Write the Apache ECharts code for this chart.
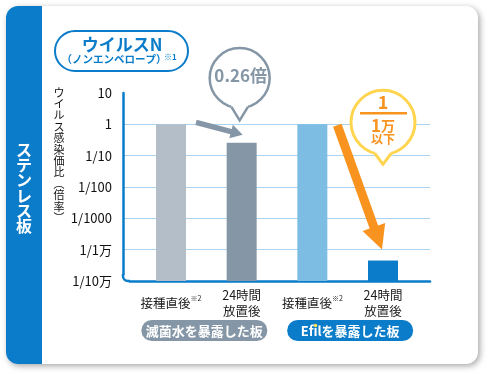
<!DOCTYPE html>
<html>
<head>
<meta charset="utf-8">
<script src="https://cdn.jsdelivr.net/npm/echarts@6/dist/echarts.min.js"></script>
<style>
html,body{margin:0;padding:0;background:#fff;}
#c{width:488px;height:375px;}
</style>
</head>
<body>
<div id="c"></div>
<script>
// ---- data ----
const categories = ['接種直後', '24時間\n放置後', '接種直後', '24時間\n放置後'];
const categoryNotes = ['※2', '', '※2', ''];
const values = [1, 0.26, 1, 0.000045];
const barColors = ['#b4bec8', '#8597a7', '#7dbde3', '#0a7cc9'];
const yTickLabels = ['1/10万', '1/1万', '1/1000', '1/100', '1/10', '1', '10'];
const groupLabels = ['滅菌水を暴露した板', 'Efilを暴露した板'];
const titleMain = 'ウイルスN';
const titleSub = '（ノンエンベロープ）';
const titleNote = '※1';
const sideLabel = 'ステンレス板';
const yName = 'ウイルス感染価比︵倍率︶';
const bubble1Text = '0.26倍';
const yMin = 0.00001, yMax = 10;

const FONT = '"Noto Sans CJK JP", "Noto Sans", sans-serif';
const BLUE = '#0a7cc9';
const GRAY = '#8597a7';
const ORANGE = '#f7931e';
const YELLOW = '#ffd54f';

const chart = echarts.init(document.getElementById('c'), null, {renderer: 'canvas'});

const baseOption = {
  animation: false,
  textStyle: {fontFamily: FONT},
  grid: [
    {left: 123, right: 58, top: 93, bottom: 94},
    {left: 135.67, right: 69.67, top: 93, bottom: 94}
  ],
  xAxis: [
    {gridIndex: 0, type: 'value', min: 0, max: 1,
     axisLine: {show: true, onZero: false, lineStyle: {color: BLUE, width: 2.5}},
     axisTick: {show: false}, axisLabel: {show: false}, splitLine: {show: false}},
    {gridIndex: 1, type: 'category', data: categories.map((c, i) => String(i)),
     axisLine: {show: false}, axisTick: {show: false},
     axisLabel: {
       interval: 0, margin: 22, verticalAlign: 'middle', color: '#1a1a1a',
       fontFamily: FONT,
       formatter: (v) => {
         const idx = Number(v);
         const lines = categories[idx].split('\n').map(s => '{a|' + s + '}');
         if (categoryNotes[idx]) lines[lines.length - 1] += '{s|' + categoryNotes[idx] + '}';
         return lines.join('\n');
       },
       rich: {
         a: {fontSize: 12.5, lineHeight: 16, color: '#1a1a1a', fontFamily: FONT},
         s: {fontSize: 7, lineHeight: 16, verticalAlign: 'top', color: '#1a1a1a', fontFamily: FONT, padding: [0, 0, 6, 0]}
       }
     },
     splitLine: {show: false}}
  ],
  yAxis: [
    {gridIndex: 0, type: 'log', logBase: 10, min: yMin, max: yMax, splitNumber: 6,
     axisLine: {show: true, lineStyle: {color: BLUE, width: 2.5}},
     axisTick: {show: false},
     axisLabel: {margin: 11, color: '#111', fontSize: 13, fontFamily: FONT,
       formatter: v => yTickLabels[Math.round(Math.log10(v)) + 5] || ''},
     splitLine: {show: true, showMaxLine: false, showMinLine: false,
       lineStyle: {color: '#a9d3ef', width: 1}}},
    {gridIndex: 1, type: 'log', logBase: 10, min: yMin, max: yMax, splitNumber: 6,
     show: false, splitLine: {show: false}}
  ],
  series: [{
    type: 'custom', xAxisIndex: 1, yAxisIndex: 1, z: 3,
    data: values.map((v, i) => [i, v]),
    renderItem: (params, api) => {
      const top = api.coord([api.value(0), api.value(1)]);
      const bot = api.coord([api.value(0), yMin]);
      return {type: 'rect', shape: {x: top[0] - 15, y: top[1], width: 30, height: bot[1] - top[1]},
        style: {fill: barColors[params.dataIndex]}};
    }
  }]
};
chart.setOption(baseOption);

function px(i, v) {
  return chart.convertToPixel({xAxisIndex: 1, yAxisIndex: 1}, [i, v]);
}

function vtext(str, x, y0, step, style, z) {
  return Array.from(str).map((ch, k) => ({
    type: 'text', z: z || 10,
    style: Object.assign({text: ch, x: x, y: y0 + k * step, align: 'center', verticalAlign: 'middle', fontFamily: FONT}, style)
  }));
}

function arrow(x1, y1, x2, y2, shaftW, headLen, headW, color) {
  const dx = x2 - x1, dy = y2 - y1, L = Math.hypot(dx, dy);
  const ux = dx / L, uy = dy / L, nx = -uy, ny = ux;
  const bx = x2 - ux * headLen, by = y2 - uy * headLen;
  const pts = [
    [x1 + nx * shaftW / 2, y1 + ny * shaftW / 2],
    [bx + nx * shaftW / 2, by + ny * shaftW / 2],
    [bx + nx * headW / 2, by + ny * headW / 2],
    [x2, y2],
    [bx - nx * headW / 2, by - ny * headW / 2],
    [bx - nx * shaftW / 2, by - ny * shaftW / 2],
    [x1 - nx * shaftW / 2, y1 - ny * shaftW / 2]
  ];
  return {type: 'polygon', z: 20, shape: {points: pts}, style: {fill: color}};
}

function bubble(cx, cy, r, tipY, halfAngleDeg, stroke, lw) {
  const t = halfAngleDeg * Math.PI / 180;
  const p1 = [cx - r * Math.sin(t), cy + r * Math.cos(t)];
  const p2 = [cx + r * Math.sin(t), cy + r * Math.cos(t)];
  const tip = [cx, tipY];
  const inner1 = [cx - r * Math.sin(t) * 0.8, cy + r * Math.cos(t) * 0.8 - 2];
  const inner2 = [cx + r * Math.sin(t) * 0.8, cy + r * Math.cos(t) * 0.8 - 2];
  return [
    {type: 'circle', z: 20, shape: {cx: cx, cy: cy, r: r}, style: {fill: '#fff', stroke: stroke, lineWidth: lw}},
    {type: 'polygon', z: 21, shape: {points: [inner1, p1, tip, p2, inner2]}, style: {fill: '#fff'}},
    {type: 'polyline', z: 22, shape: {points: [p1, tip, p2]}, style: {stroke: stroke, lineWidth: lw, fill: null, lineJoin: 'miter'}}
  ];
}

const b0 = px(0, values[0]), b1 = px(1, values[1]), b2 = px(2, values[2]), b3 = px(3, values[3]);
const topY = px(0, yMax)[1];
const botY = px(0, yMin)[1];
const axisX = chart.convertToPixel({xAxisIndex: 0}, 0);
const half = 15;

const g = [];
// card
g.push({type: 'rect', z: -100, shape: {x: 6, y: 6, width: 472, height: 358, r: 12},
  style: {fill: '#fff', shadowBlur: 6, shadowColor: 'rgba(0,0,0,0.35)', shadowOffsetX: 2, shadowOffsetY: 2}});
g.push({type: 'rect', z: -99, shape: {x: 6, y: 6, width: 36, height: 358, r: [12, 0, 0, 12]},
  style: {fill: BLUE}});
g.push(...vtext(sideLabel, 24, 150, 15.2, {fill: '#fff', fontSize: 16, fontWeight: 'bold'}));

// rounded axis corner
g.push({type: 'rect', z: 30, shape: {x: axisX - 2, y: botY - 6, width: 8, height: 8}, style: {fill: '#fff'}});
g.push({type: 'arc', z: 31, shape: {cx: axisX + 5, cy: botY - 5, r: 5, startAngle: Math.PI / 2, endAngle: Math.PI, clockwise: true},
  style: {stroke: BLUE, lineWidth: 2.5, fill: null}});
g.push({type: 'line', z: 31, shape: {x1: axisX + 5, y1: botY, x2: axisX + 7, y2: botY}, style: {stroke: BLUE, lineWidth: 2.5}});
g.push({type: 'line', z: 31, shape: {x1: axisX, y1: botY - 5, x2: axisX, y2: botY - 7}, style: {stroke: BLUE, lineWidth: 2.5}});

// title pill
g.push({type: 'rect', z: 10, shape: {x: 55, y: 31, width: 133, height: 40, r: 20},
  style: {fill: '#fff', stroke: BLUE, lineWidth: 2}});
g.push({type: 'text', z: 11, style: {text: titleMain, x: 122, y: 45, align: 'center', verticalAlign: 'middle',
  fill: BLUE, fontSize: 17, fontWeight: 'bold', fontFamily: FONT}});
g.push({type: 'text', z: 11, style: {text: titleSub, x: 114, y: 59, align: 'center', verticalAlign: 'middle',
  fill: BLUE, fontSize: 10.5, fontWeight: 'bold', fontFamily: FONT}});
g.push({type: 'text', z: 11, style: {text: titleNote, x: 164, y: 57, align: 'left', verticalAlign: 'middle',
  fill: BLUE, fontSize: 8, fontWeight: 'bold', fontFamily: FONT}});

// y axis name
g.push(...vtext(yName, 59, 92.5, 11.4, {fill: '#111', fontSize: 11}));

// group pills
const gp = [[(b0[0] + b1[0]) / 2 - 2, GRAY], [(b2[0] + b3[0]) / 2 + 2.5, BLUE]];
const measure = document.createElement('canvas').getContext('2d');
measure.font = 'bold 13px ' + FONT;
gp.forEach((p, k) => {
  g.push({type: 'rect', z: 10, shape: {x: p[0] - 63, y: 320, width: 126, height: 21, r: 10.5}, style: {fill: p[1]}});
  g.push({type: 'text', z: 11, style: {text: groupLabels[k], x: p[0], y: 331, align: 'center', verticalAlign: 'middle',
    fill: '#fff', fontSize: 13, fontWeight: 'bold', fontFamily: FONT}});
});
// yellow dot over the "i" of Efil
{
  const txt = groupLabels[1];
  const w = measure.measureText(txt).width;
  const pre = measure.measureText(txt.slice(0, txt.indexOf('i'))).width;
  const wi = measure.measureText('i').width;
  const dx = gp[1][0] - w / 2 + pre + wi / 2;
  g.push({type: 'circle', z: 12, shape: {cx: dx, cy: 325.5, r: 1.7}, style: {fill: '#ffe14d'}});
}

// gray arrow & bubble
g.push(arrow(b0[0] + half + 10, b0[1] - 2, b1[0] + 1, b1[1] - 8, 5.5, 12, 14, GRAY));
g.push(...bubble(b1[0] - 2, topY - 15, 30, b0[1] - 4, 16, GRAY, 2.5));
g.push({type: 'text', z: 23, style: {text: bubble1Text, x: b1[0] - 1, y: topY - 17, align: 'center', verticalAlign: 'middle',
  fill: GRAY, fontSize: 17, fontWeight: 'bold', fontFamily: FONT}});

// orange arrow & bubble
g.push(arrow(b2[0] + half + 10, b2[1] + 1, b3[0] - 1, b3[1] - 11, 9, 24, 24, ORANGE));
const ocx = b3[0], ocy = b2[1] - 2;
g.push(...bubble(ocx, ocy, 32, ocy + 42, 15, YELLOW, 3));
g.push({type: 'text', z: 23, style: {text: '1', x: ocx, y: ocy - 20, align: 'center', verticalAlign: 'middle',
  fill: ORANGE, fontSize: 18, fontWeight: 'bold', fontFamily: FONT}});
g.push({type: 'line', z: 23, shape: {x1: ocx - 23, y1: ocy - 9, x2: ocx + 24, y2: ocy - 9}, style: {stroke: ORANGE, lineWidth: 2.5}});
g.push({type: 'text', z: 23, style: {text: '{n|1}{u|万}', x: ocx, y: ocy + 3, align: 'center', verticalAlign: 'middle',
  rich: {n: {fill: ORANGE, fontSize: 17, fontWeight: 'bold', fontFamily: FONT}, u: {fill: ORANGE, fontSize: 14, fontWeight: 'bold', fontFamily: FONT}}}});
g.push({type: 'text', z: 23, style: {text: '以下', x: ocx, y: ocy + 17, align: 'center', verticalAlign: 'middle',
  fill: ORANGE, fontSize: 12, fontWeight: 'bold', fontFamily: FONT}});

chart.setOption({graphic: {elements: g}});
</script>
</body>
</html>
